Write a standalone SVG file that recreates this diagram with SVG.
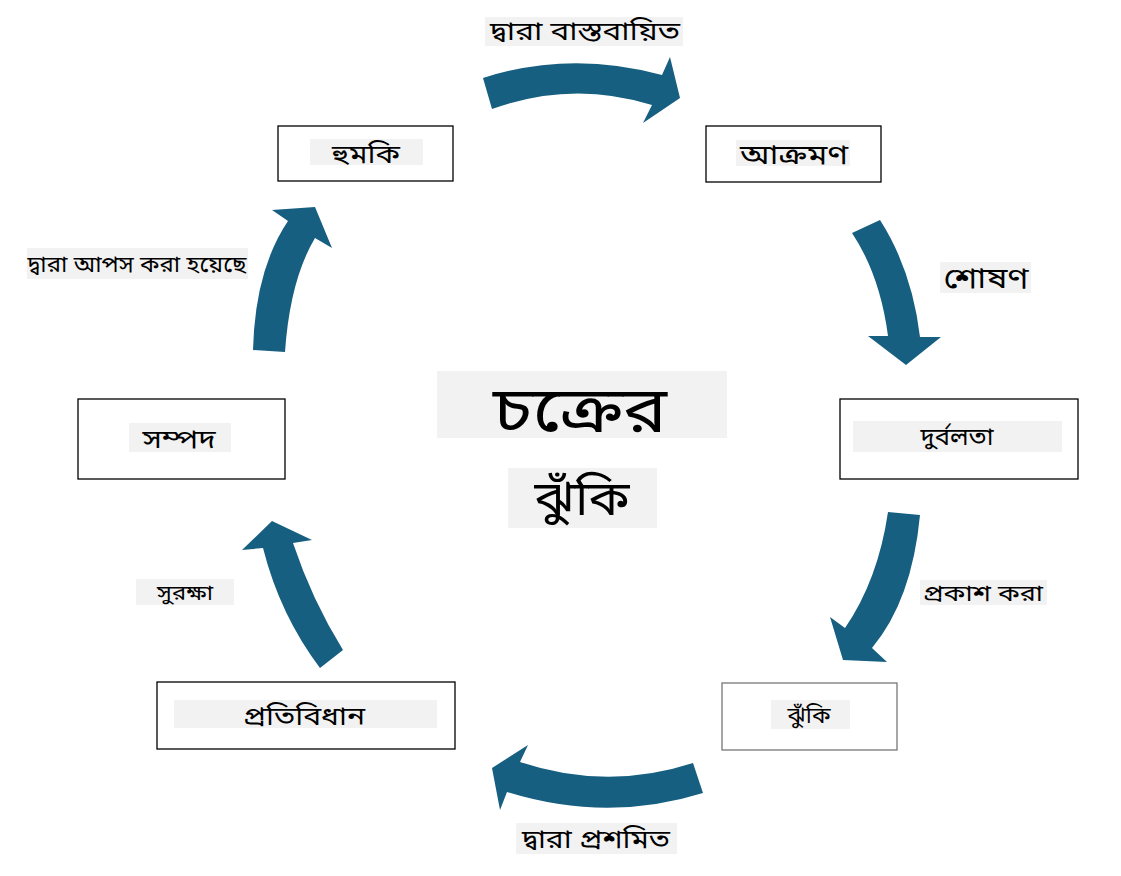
<svg xmlns="http://www.w3.org/2000/svg" width="1121" height="876" viewBox="0 0 1121 876">
<style>
.box{fill:#fff;stroke:#000;stroke-width:1.3}
.bg{fill:#f2f2f2}
.t{font-family:"Noto Sans Bengali","Noto Sans","Nirmala UI",sans-serif;fill:#000;text-anchor:middle}
.arr{fill:#165f80}
</style>
<rect width="1121" height="876" fill="#fff"/>
<g id="connectors">
<path class="arr" d="M483,78 Q570,50 662,75 L670,57 L680,98 L643,123 L652,105 Q572,80 492,109 Z"/>
<path class="arr" d="M852,233 L880,220 Q912,270 920,337 L941,337 L906,365 L868,336 L888,336 Q880,275 852,233 Z"/>
<path class="arr" d="M888,512 L920,515 Q912,600 872,648 L887,662 L843,660 L830,617 L845,628 Q878,580 888,512 Z"/>
<path class="arr" d="M693,763 Q607,791 520,762 L528,745 L492,768 L500,810 L507,792 Q607,823 703,793 Z"/>
<path class="arr" d="M320,668 Q280,615 263,548 L242,550 L272,521 L312,540 L293,543 Q312,600 343,650 Z"/>
<path class="arr" d="M253,350 Q255,270 288,221 L272,210 L315,207 L332,248 L315,238 Q290,280 285,352 Z"/>
</g>
<g id="label-implemented">
<rect class="bg" x="485" y="17" width="198" height="29"/>
<text class="t" x="585" y="40" font-size="26" textLength="190" lengthAdjust="spacingAndGlyphs">দ্বারা বাস্তবায়িত</text>
</g>
<g id="label-exploit">
<rect class="bg" x="940" y="262" width="91" height="31"/>
<text class="t" x="986" y="288" font-size="28" textLength="85" lengthAdjust="spacingAndGlyphs">শোষণ</text>
</g>
<g id="label-compromised">
<rect class="bg" x="27" y="248" width="221" height="31"/>
<text class="t" x="137" y="272" font-size="22" textLength="219" lengthAdjust="spacingAndGlyphs">দ্বারা আপস করা হয়েছে</text>
</g>
<g id="label-expose">
<rect class="bg" x="920" y="580" width="127" height="25"/>
<text class="t" x="983" y="601" font-size="23" textLength="120" lengthAdjust="spacingAndGlyphs">প্রকাশ করা</text>
</g>
<g id="label-protect">
<rect class="bg" x="136" y="579" width="98" height="26"/>
<text class="t" x="185" y="600" font-size="21" textLength="56" lengthAdjust="spacingAndGlyphs">সুরক্ষা</text>
</g>
<g id="label-mitigated">
<rect class="bg" x="516" y="823" width="161" height="31"/>
<text class="t" x="596" y="848" font-size="26" textLength="148" lengthAdjust="spacingAndGlyphs">দ্বারা প্রশমিত</text>
</g>
<g id="node-threat">
<rect class="box" x="278" y="126" width="175" height="55"/>
<rect class="bg" x="310" y="139" width="113" height="26"/>
<text class="t" x="366" y="163" font-size="25" textLength="68" lengthAdjust="spacingAndGlyphs">হুমকি</text>
</g>
<g id="node-attack">
<rect class="box" x="706" y="126" width="175" height="56"/>
<rect class="bg" x="736" y="140" width="114" height="26"/>
<text class="t" x="794" y="164" font-size="27" textLength="108" lengthAdjust="spacingAndGlyphs">আক্রমণ</text>
</g>
<g id="node-vulnerability">
<rect class="box" x="840" y="399" width="238" height="80"/>
<rect class="bg" x="853" y="421" width="209" height="31"/>
<text class="t" x="957" y="445" font-size="24" textLength="73" lengthAdjust="spacingAndGlyphs">দুর্বলতা</text>
</g>
<g id="node-risk">
<rect class="box" x="722" y="683" width="175" height="67" style="stroke:#777"/>
<rect class="bg" x="771" y="700" width="79" height="29"/>
<text class="t" x="809" y="723" font-size="23" textLength="43" lengthAdjust="spacingAndGlyphs">ঝুঁকি</text>
</g>
<g id="node-countermeasure">
<rect class="box" x="157" y="682" width="298" height="67"/>
<rect class="bg" x="174" y="700" width="263" height="28"/>
<text class="t" x="304" y="725" font-size="26" textLength="122" lengthAdjust="spacingAndGlyphs">প্রতিবিধান</text>
</g>
<g id="node-asset">
<rect class="box" x="78" y="399" width="207" height="80"/>
<rect class="bg" x="129" y="423" width="102" height="29"/>
<text class="t" x="179" y="448" font-size="25" textLength="73" lengthAdjust="spacingAndGlyphs">সম্পদ</text>
</g>
<g id="center-title">
<rect class="bg" x="437" y="371" width="290" height="67"/>
<text class="t" x="580" y="432" font-size="64" textLength="174" lengthAdjust="spacingAndGlyphs">চক্রের</text>
<rect class="bg" x="508" y="468" width="149" height="60"/>
<text class="t" x="582" y="515" font-size="48" textLength="95" lengthAdjust="spacingAndGlyphs">ঝুঁকি</text>
</g>
</svg>
